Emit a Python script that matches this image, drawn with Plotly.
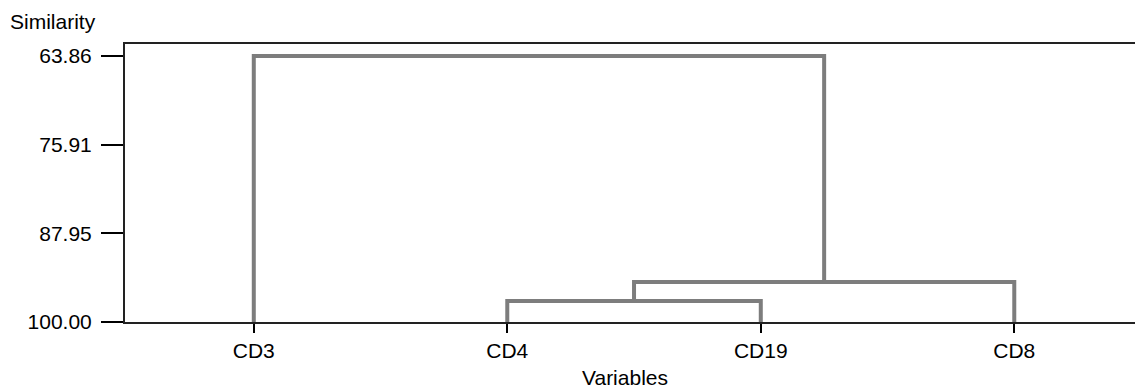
import plotly.graph_objects as go

# Leaf order (left to right) and labels
leaves = ["CD3", "CD4", "CD19", "CD8"]
# Merges: (left member, right member, similarity level)
merge_left = ["CD4", "C1", "CD3"]
merge_right = ["CD19", "CD8", "C2"]
merge_level = [97.15, 94.57, 63.86]
merge_name = ["C1", "C2", "C3"]

y_tickvals = [63.86, 75.91, 87.95, 100.00]
y_ticktext = ["63.86", "75.91", "87.95", "100.00"]

pos = {name: i + 1 for i, name in enumerate(leaves)}
height = {name: 100.0 for name in leaves}

xs, ys = [], []
for l, r, lev, nm in zip(merge_left, merge_right, merge_level, merge_name):
    xl, xr = pos[l], pos[r]
    xs += [xl, xl, xr, xr, None]
    ys += [height[l], lev, lev, height[r], None]
    pos[nm] = (xl + xr) / 2
    height[nm] = lev

FONT = "Liberation Sans, Arial, Helvetica, sans-serif"

# page body has an 8px margin, so the figure is 8px smaller on each side
W, H = 1135, 380
L, T, R, B = 117, 36, 2, 66
pw, ph = W - L - R, H - T - B

def px(xp):
    return (xp - 8 - L) / pw

def py(yp):
    return (T + ph - (yp - 8)) / ph

fig = go.Figure()
fig.add_trace(go.Scatter(x=xs, y=ys, mode="lines",
                         line=dict(color="#7d7d7d", width=4),
                         hoverinfo="skip", showlegend=False))

fig.update_layout(
    width=W, height=H,
    margin=dict(l=L, r=R, t=T, b=B, pad=0),
    paper_bgcolor="white", plot_bgcolor="white",
    font=dict(family=FONT, size=21, color="black"),
    showlegend=False,
    xaxis=dict(range=[0.492, 4.492], tickvals=[1, 2, 3, 4], ticktext=leaves,
               ticks="outside", ticklen=9, tickwidth=2, tickcolor="black",
               showline=True, linecolor="#222222", linewidth=2, mirror=True,
               showgrid=False, zeroline=False, fixedrange=True,
               tickfont=dict(size=21)),
    yaxis=dict(range=[100, 62.23], tickvals=y_tickvals, ticktext=y_ticktext,
               ticks="outside", ticklen=22, tickwidth=2, tickcolor="black",
               ticklabelstandoff=5,
               showline=True, linecolor="#222222", linewidth=2, mirror=True,
               showgrid=False, zeroline=False, fixedrange=True,
               tickfont=dict(size=21)),
    annotations=[
        dict(text="Similarity", xref="paper", yref="paper",
             x=px(8), y=py(21), xanchor="left", yanchor="middle",
             showarrow=False, font=dict(size=21)),
        dict(text="Variables", xref="paper", yref="paper",
             x=px(626), y=py(377), xanchor="center", yanchor="middle",
             showarrow=False, font=dict(size=21)),
    ],
)

fig.write_html("out.html")
